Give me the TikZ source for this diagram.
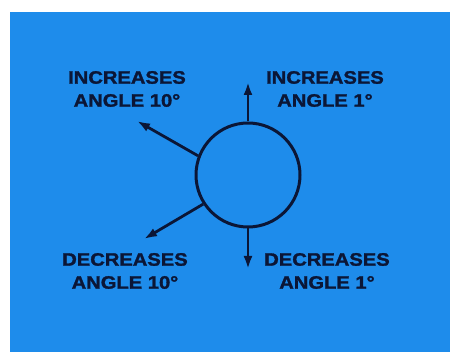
\documentclass[tikz,border=0pt]{standalone}
\usepackage{fontspec}
\newfontfamily\lblfont{Liberation Sans}[FakeStretch=1.12, FakeBold=1.6]
\usepackage{tikz}
\usetikzlibrary{arrows.meta, positioning}
\definecolor{DLblue}{HTML}{1E8CEB}
\definecolor{DLnavy}{HTML}{0B1636}
\tikzset{
  dlpanel/.style={fill=DLblue, draw=none},
  dldial/.style={circle, draw=DLnavy, line width=3pt, minimum size=104pt, inner sep=0pt},
  dlarr/.style={-{Latex[length=13pt,width=9pt]}, line width=2.8pt, draw=DLnavy},
  dllbl/.style={align=center, text=DLnavy, inner sep=0pt,
    font=\lblfont\bfseries\fontsize{18}{23}\selectfont},
}
\begin{document}
\begin{tikzpicture}[x=1pt, y=-1pt]
  \useasboundingbox (0,0) rectangle (450,352);
  \fill[white] (0,0) rectangle (450,352);
  \path[dlpanel] (10,12) rectangle (460,362);
  %% Dial
  \node[dldial] (dial) at (248,175) {};
  %% Arrow ends
  \coordinate (upend)   at (248,82);
  \coordinate (downend) at (248,269);
  \coordinate (ulend)   at (137,121);
  \coordinate (llend)   at (144,239);
  %% Labels
  \node[dllbl] (incten) at (127,89)  {INCREASES\\ANGLE 10°};
  \node[dllbl] (incone) at (325,89)  {INCREASES\\ANGLE 1°};
  \node[dllbl] (decten) at (125,271) {DECREASES\\ANGLE 10°};
  \node[dllbl] (decone) at (327,271) {DECREASES\\ANGLE 1°};
  %% Arrows
  \draw[dlarr] (dial.north) -- (upend);
  \draw[dlarr] (dial.south) -- (downend);
  \draw[dlarr] (dial.159) -- (ulend);
  \draw[dlarr] (dial.213) -- (llend);
\end{tikzpicture}
\end{document}
